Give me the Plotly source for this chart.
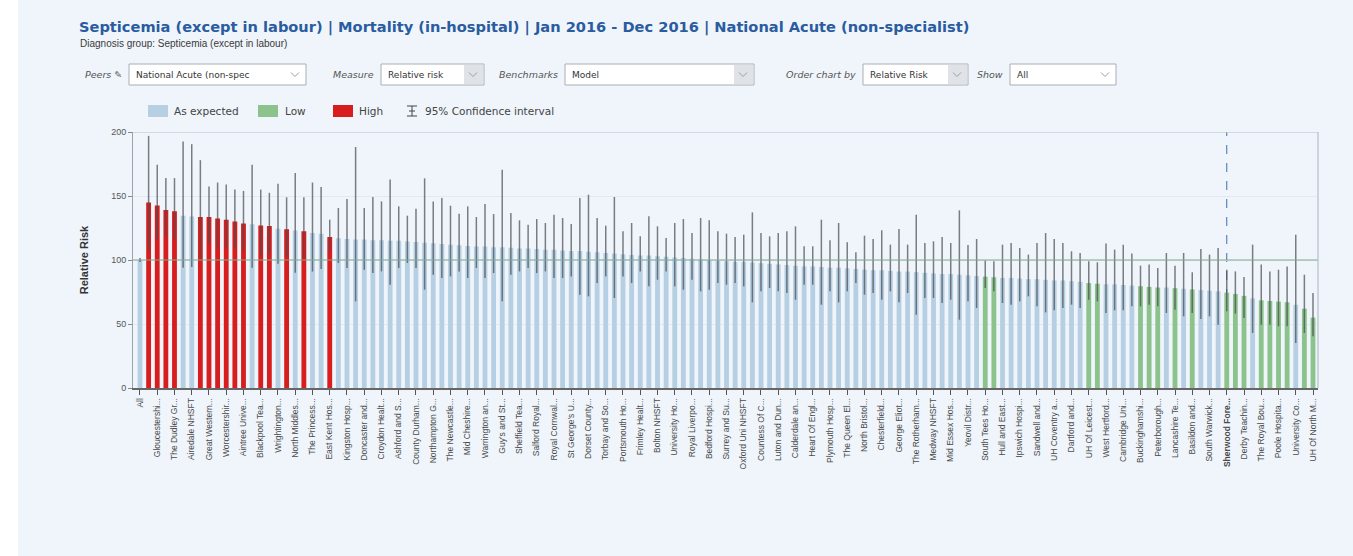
import plotly.graph_objects as go

# ---- data -------------------------------------------------------------
tick_labels = [
    "All", "Gloucestershi...", "The Dudley Gr...", "Airedale NHSFT", "Great Western...",
    "Worcestershir...", "Aintree Unive...", "Blackpool Tea...", "Wrightington...",
    "North Middles...", "The Princess...", "East Kent Hos...", "Kingston Hosp...",
    "Doncaster and...", "Croydon Healt...", "Ashford and S...", "County Durham...",
    "Northampton G...", "The Newcastle...", "Mid Cheshire...", "Warrington an...",
    "Guy's and St...", "Sheffield Tea...", "Salford Royal...", "Royal Cornwal...",
    "St George's U...", "Dorset County...", "Torbay and So...", "Portsmouth Ho...",
    "Frimley Healt...", "Bolton NHSFT", "University Ho...", "Royal Liverpo...",
    "Bedford Hospi...", "Surrey and Su...", "Oxford Uni NHSFT", "Countess Of C...",
    "Luton and Dun...", "Calderdale an...", "Heart Of Engl...", "Plymouth Hosp...",
    "The Queen El...", "North Bristol...", "Chesterfield...", "George Eliot...",
    "The Rotherham...", "Medway NHSFT", "Mid Essex Hos...", "Yeovil Distr...",
    "South Tees Ho...", "Hull and East...", "Ipswich Hospi...", "Sandwell and...",
    "UH Coventry a...", "Dartford and...", "UH Of Leicest...", "West Hertford...",
    "Cambridge Uni...", "Buckinghamshi...", "Peterborough...", "Lancashire Te...",
    "Basildon and...", "South Warwick...", "Sherwood Fore...", "Derby Teachin...",
    "The Royal Bou...", "Poole Hospita...", "University Co...", "UH Of North M...",
]
highlighted_label = "Sherwood Fore..."

relative_risk = [
    100, 145, 142.5, 139, 138, 134.5, 134, 133.5, 133.5, 132.5,
    131.5, 130, 128.5, 128, 127, 126.5, 124.5, 124, 123, 122.5,
    121, 120.5, 118, 117, 116.5, 116, 116, 115.5, 115.5, 115,
    115, 114.5, 114, 113.5, 113, 112.5, 112, 111.5, 111, 110.5,
    110.5, 110, 110, 109.5, 109, 109, 108.5, 108, 108, 107.5,
    107, 107, 106.5, 106, 105.5, 105, 104.5, 104, 103.5, 103.5,
    103, 102.5, 102, 101.5, 101, 100.5, 100, 99.5, 99, 98.5,
    98.5, 98, 97.5, 97, 96.5, 96, 95.5, 95, 95, 94.5,
    94, 94, 93.5, 93, 92.5, 92, 92, 91.5, 91, 91,
    90.5, 90, 89.5, 89, 89, 88.5, 88, 87.5, 87, 86.5,
    86, 86, 85.5, 85, 85, 84.5, 84, 84, 83.5, 83,
    82, 81.5, 81, 81, 80.5, 80, 79.5, 79, 78.5, 78.5,
    78, 77.5, 77, 76.5, 76, 75.5, 74.5, 73.5, 72, 70,
    68.5, 68, 67.5, 67, 65, 62, 55,
]

ci_upper = [
    101.5, 197, 174.5, 164, 164, 192.5, 190.5, 178, 157.5, 160.5,
    159, 155, 154, 174.5, 155, 152.5, 159.5, 149, 168, 149,
    160.5, 157, 131.5, 140.6, 147.7, 188.3, 140.6, 149.2, 145.8, 162.8,
    141.9, 134.6, 140.1, 163.8, 145.8, 148.4, 142.4, 136.2, 141.9, 133.6,
    143.8, 135.9, 170.6, 136.7, 131, 127.6, 132, 128.9, 135.4, 132.8,
    128.1, 148.4, 151, 132.8, 126.8, 149.2, 122.4, 128.9, 118.5, 134.1,
    126.3, 117.2, 128.9, 132, 121.1, 132.8, 131, 122.4, 120.6, 118,
    119.8, 137.2, 121.1, 118.5, 121.1, 122.4, 126.3, 110.7, 110.7, 131.5,
    115.4, 128.9, 113.8, 106, 119, 116.4, 123.2, 112, 124.2, 112,
    135.4, 113.3, 114.6, 118, 113.3, 138.8, 111.7, 116.4, 99.7, 99,
    112, 113.3, 109.4, 104.2, 113.3, 121.1, 116.4, 113.3, 106.8, 105.5,
    99, 98.2, 112.8, 108.1, 112, 105, 95.6, 96.4, 93.8, 105.5,
    95.6, 105.5, 90.4, 108.6, 104.2, 109.4, 92.4, 91.1, 86.7, 112,
    96.4, 91.1, 92.4, 95, 119.8, 88.5, 74.2,
]

ci_lower = [
    98.5, 107, 116.5, 118, 116, 94, 94.5, 101, 113, 109,
    109, 109, 107, 94, 104, 105, 97, 103, 90, 101,
    91, 93, 106, 97.7, 93.8, 67.7, 92.4, 89.8, 91.1, 80.7,
    93.8, 97.7, 93.8, 76.8, 88.5, 85.9, 87.2, 91.1, 85.9, 93.8,
    85.9, 89.8, 67.7, 88.5, 91.1, 93.8, 89.8, 91.1, 85.9, 85.9,
    87.2, 72.9, 71.6, 82, 87.2, 70.3, 87.2, 82, 91.1, 79.4,
    84.6, 91.1, 79.4, 76.8, 84.6, 75.5, 76.8, 82, 80.7, 82,
    79.4, 66.9, 75.5, 78.1, 75.5, 74.2, 69, 80.7, 80.7, 65.1,
    75.5, 66.9, 75.5, 82, 72.9, 74.2, 69, 75.5, 66.9, 74.2,
    57.3, 70.3, 70.3, 66.4, 69, 53.4, 67.7, 62.5, 78.1, 75.5,
    66.4, 65.1, 67.7, 71.6, 63.8, 59.1, 60.7, 62.5, 65.1, 62.5,
    69, 67.7, 58.6, 60.7, 60.7, 63.8, 63.8, 65.1, 63.8, 58.6,
    61.2, 56, 58.6, 53.9, 56, 49.5, 59.9, 58.1, 54.7, 43,
    49.5, 49.5, 48.2, 48.2, 35.2, 43, 40.4,
]

# E = as expected, H = high, L = low
status = list(
    "EHHHHEEHHHHHHEHHEHEHEEHEEEEEEEEEEEEEEEEEEEEEEEEEEE"
    "EEEEEEEEEEEEEEEEEEEEEEEEEEEEEEEEEEEEEEEEEEEEEEEELL"
    "EEEEEEEEEELLEEEELLLELELEEELLLELLLLELL"
)
selected_index = 126  # Sherwood Forest

status_colours = {"E": "#b6cfe3", "L": "#8cc38c", "H": "#d71d1d"}

# ---- pixel helpers for the page furniture --------------------------------
W, H = 1353, 556
L_M, R_M, T_M, B_M = 133, 35, 132, 168
PW, PH = W - L_M - R_M, H - T_M - B_M


def px(x):
    return (x - L_M) / PW


def py(y):
    return (H - B_M - y) / PH


BG = "#eff5fb"
FONT = "Liberation Sans, Arial, sans-serif"
UI_FONT = "DejaVu Sans, Verdana, sans-serif"

n = len(relative_risk)
xs = list(range(n))

fig = go.Figure()
fig.add_trace(go.Bar(
    x=xs,
    y=relative_risk,
    width=0.56,
    marker=dict(color=[status_colours[s] for s in status], line=dict(width=0)),
    error_y=dict(
        type="data",
        symmetric=False,
        array=[u - r for u, r in zip(ci_upper, relative_risk)],
        arrayminus=[r - lo for r, lo in zip(relative_risk, ci_lower)],
        color="rgba(75,78,82,0.72)",
        thickness=1.5,
        width=0,
    ),
    hoverinfo="skip",
    showlegend=False,
))

ticktext = [f"<b>{t}</b>" if t == highlighted_label else t for t in tick_labels]

shapes = []
annotations = []

# benchmark line at 100, top and right frame lines, selected-trust marker
shapes.append(dict(type="line", xref="paper", yref="y", x0=0, x1=1, y0=100, y1=100,
                   line=dict(color="#7faa8e", width=1.2), layer="above"))
shapes.append(dict(type="line", xref="paper", yref="y", x0=0, x1=1, y0=200, y1=200,
                   line=dict(color="#b4c0ca", width=1.2), layer="above"))
shapes.append(dict(type="line", xref="paper", yref="y", x0=1, x1=1, y0=0, y1=200,
                   line=dict(color="#b4c0ca", width=1.2), layer="above"))
shapes.append(dict(type="line", xref="x", yref="y", x0=selected_index, x1=selected_index,
                   y0=0, y1=200, line=dict(color="#3d6fb2", width=1, dash="dash"),
                   layer="below"))

# white strip on the far left of the page
shapes.append(dict(type="rect", xref="paper", yref="paper", x0=px(0), x1=px(18),
                   y0=py(H), y1=py(0), fillcolor="white", line=dict(width=0),
                   layer="below"))

# title and subtitle
annotations.append(dict(
    xref="paper", yref="paper", x=px(77), y=py(27), xanchor="left", yanchor="middle",
    text="<b>Septicemia (except in labour) | Mortality (in-hospital) | Jan 2016 - Dec 2016 | "
         "National Acute (non-specialist)</b>",
    showarrow=False, font=dict(family=UI_FONT, size=14.6, color="#2a5c9f")))
annotations.append(dict(
    xref="paper", yref="paper", x=px(78), y=py(43), xanchor="left", yanchor="middle",
    text="Diagnosis group: Septicemia (except in labour)",
    showarrow=False, font=dict(family=FONT, size=10, color="#3a3a3a")))

# selector controls
controls = [
    # label, box_x0, box_x1, value, button
    ("Peers \u270e", 129, 306, "National Acute (non-spec", False),
    ("Measure", 381, 484, "Relative risk", True),
    ("Benchmarks", 565, 754, "Model", True),
    ("Order chart by", 863, 968, "Relative Risk", True),
    ("Show", 1010, 1116, "All", False),
]
cy0, cy1 = 64, 85
for label, bx0, bx1, value, button in controls:
    annotations.append(dict(
        xref="paper", yref="paper", x=px(bx0 - 5), y=py((cy0 + cy1) / 2), xanchor="right",
        yanchor="middle", text=f"<i>{label}</i>", showarrow=False,
        font=dict(family=UI_FONT, size=9.5, color="#555555")))
    shapes.append(dict(type="rect", xref="paper", yref="paper", x0=px(bx0), x1=px(bx1),
                       y0=py(cy1), y1=py(cy0), fillcolor="white",
                       line=dict(color="#a9afb5", width=1)))
    if button:
        shapes.append(dict(type="rect", xref="paper", yref="paper", x0=px(bx1 - 20),
                           x1=px(bx1 - 1), y0=py(cy1 - 1), y1=py(cy0 + 1),
                           fillcolor="#dfe2e6", line=dict(width=0)))
    annotations.append(dict(
        xref="paper", yref="paper", x=px(bx0 + 5), y=py((cy0 + cy1) / 2), xanchor="left",
        yanchor="middle", text=value, showarrow=False,
        font=dict(family=UI_FONT, size=9, color="#333333")))
    cx = bx1 - 11
    cym = (cy0 + cy1) / 2
    shapes.append(dict(
        type="path", xref="paper", yref="paper",
        path=f"M {px(cx - 4)} {py(cym - 2)} L {px(cx)} {py(cym + 2)} L {px(cx + 4)} {py(cym - 2)}",
        line=dict(color="#9aa0a6", width=1)))

# legend
ly = 111
legend_items = [
    ("As expected", status_colours["E"], 148, 172),
    ("Low", status_colours["L"], 258, 283),
    ("High", status_colours["H"], 333, 357),
]
for text, colour, sx, tx in legend_items:
    shapes.append(dict(type="rect", xref="paper", yref="paper", x0=px(sx), x1=px(sx + 20),
                       y0=py(ly + 6), y1=py(ly - 6), fillcolor=colour, line=dict(width=0)))
    annotations.append(dict(
        xref="paper", yref="paper", x=px(tx), y=py(ly), xanchor="left", yanchor="middle",
        text=text, showarrow=False, font=dict(family=UI_FONT, size=10.5, color="#444444")))
ix = 412
shapes.append(dict(
    type="path", xref="paper", yref="paper",
    path=(f"M {px(ix - 5)} {py(ly - 5)} L {px(ix + 5)} {py(ly - 5)} "
          f"M {px(ix - 5)} {py(ly + 5)} L {px(ix + 5)} {py(ly + 5)} "
          f"M {px(ix)} {py(ly - 5)} L {px(ix)} {py(ly + 5)} "
          f"M {px(ix - 3)} {py(ly)} L {px(ix + 3)} {py(ly)}"),
    line=dict(color="#444444", width=1)))
annotations.append(dict(
    xref="paper", yref="paper", x=px(423), y=py(ly), xanchor="left", yanchor="middle",
    text="95% Confidence interval", showarrow=False,
    font=dict(family=UI_FONT, size=10.5, color="#444444")))

fig.update_layout(
    width=W, height=H,
    margin=dict(l=L_M, r=R_M, t=T_M, b=B_M, pad=0),
    paper_bgcolor=BG, plot_bgcolor=BG,
    font=dict(family=FONT, size=10, color="#444444"),
    bargap=0.4,
    shapes=shapes,
    annotations=annotations,
    xaxis=dict(
        range=[-0.81, n - 1 + 0.58],
        tickmode="array", tickvals=xs[::2], ticktext=ticktext,
        tickangle=-90, tickfont=dict(family=FONT, size=8.5, color="#4a4a4a"),
        ticks="outside", ticklen=5, tickcolor="#555555", tickwidth=1,
        showline=True, linecolor="#666666", linewidth=1.5,
        showgrid=False, zeroline=False, fixedrange=True,
    ),
    yaxis=dict(
        range=[0, 200], tickvals=[0, 50, 100, 150, 200],
        tickfont=dict(family=FONT, size=9, color="#555555"),
        ticks="outside", ticklen=4, tickcolor="#888888",
        showline=True, linecolor="#9aa3ab", linewidth=1,
        showgrid=True, gridcolor="#e2eaf1", gridwidth=1, zeroline=False,
        title=dict(text="<b>Relative Risk</b>", standoff=20,
                   font=dict(family=FONT, size=11, color="#333333")),
        fixedrange=True,
    ),
)

fig.write_html("out.html")
